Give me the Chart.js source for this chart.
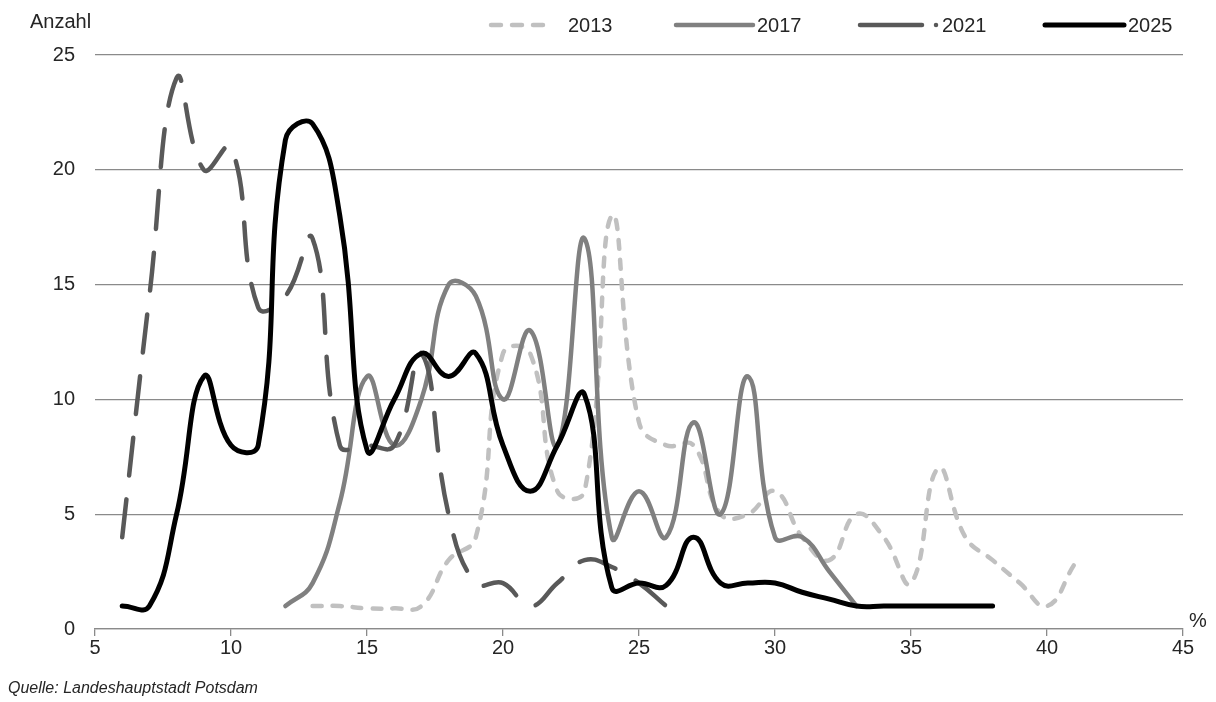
<!DOCTYPE html>
<html lang="de">
<head>
<meta charset="utf-8">
<title>Anzahl nach Anteil (%)</title>
<script src="https://cdn.jsdelivr.net/npm/chart.js@4.4.1/dist/chart.umd.min.js"></script>
<style>
    html, body { margin: 0; padding: 0; background: #fff; }
    #wrap {
        position: relative;
        width: 1216px;
        height: 702px;
        font-family: "Liberation Sans", Arial, Helvetica, sans-serif;
        color: #262626;
    }
    #chart { position: absolute; left: 0; top: 0; }
    .lbl { position: absolute; white-space: nowrap; line-height: 1; }
    #yTitle { left: 30px; top: 11px; font-size: 20px; }
    #xUnit { left: 1189px; top: 610px; font-size: 20px; }
    #source { left: 8px; top: 680px; font-size: 16px; font-style: italic; }
</style>
</head>
<body>
<div id="wrap">
    <canvas id="chart" width="1216" height="702"></canvas>
    <div class="lbl" id="yTitle">Anzahl</div>
    <div class="lbl" id="xUnit">%</div>
    <div class="lbl" id="source">Quelle: Landeshauptstadt Potsdam</div>
</div>
<script>

// values (x = %, y = Anzahl)
var x2013 = [13, 14, 15, 16, 17, 18, 19, 20, 21, 22, 23, 24, 25, 26, 27, 28, 29, 30, 31, 32, 33, 34, 35, 36, 37, 38, 39, 40, 41];
var y2013 = [1, 1, 0.9, 0.9, 1, 3, 4, 12, 12, 6, 6, 18, 9, 8, 8, 5, 5, 6, 4, 3, 5, 4, 2, 7, 4, 3, 2, 1, 2.8];

var x2017 = [12, 13, 14, 15, 16, 17, 18, 19, 20, 21, 22, 23, 24, 25, 26, 27, 28, 29, 30, 31, 32, 33];
var y2017 = [1, 2, 5.5, 11, 8, 10, 15, 14.5, 10, 13, 8, 17, 4, 6, 4, 9, 5, 11, 4, 4, 2.5, 1];

var x2021 = [6, 7, 8, 9, 10, 11, 12, 13, 14, 15, 16, 17, 18, 19, 20, 21, 22, 23, 24, 25, 26];
var y2021 = [4, 14.5, 24, 20, 21, 14, 14.5, 17, 8, 8, 8, 12, 5, 2, 2, 1, 2, 3, 2.7, 2, 1];

var x2025 = [6, 7, 8, 9, 10, 11, 12, 13, 14, 15, 16, 17, 18, 19, 20, 21, 22, 23, 24, 25, 26, 27, 28, 29, 30, 31, 32, 33, 34, 35, 36, 37, 38];
var y2025 = [1, 1, 5, 11, 8, 8, 21.3, 22, 18, 7.8, 10, 12, 11, 12, 8, 6, 8, 10.2, 1.8, 2, 1.9, 4, 2, 2, 2, 1.6, 1.3, 1, 1, 1, 1, 1, 1];

var seriesLabels = ["2013", "2017", "2021", "2025"];
var xTicks = [5, 10, 15, 20, 25, 30, 35, 40, 45];
var yTicks = [0, 5, 10, 15, 20, 25];

function toPoints(xs, ys) {
    return xs.map(function (x, k) { return {x: x, y: ys[k]}; });
}

var gridColor = "#8a8a8a";
var textColor = "#262626";

// legend: sample positions in the header row
var legendSpots = [
    {x0: 491, x1: 554, tx: 568, dash: [10, 11]},
    {x0: 676, x1: 753, tx: 757, dash: []},
    {x0: 860, x1: 922, tx: 942, dash: [], dot: 936},
    {x0: 1045, x1: 1124, tx: 1128, dash: []}
];

var headerLegend = {
    id: "headerLegend",
    afterDraw: function (chart) {
        var ctx = chart.ctx;
        var y = 25;
        chart.data.datasets.forEach(function (ds, i) {
            var spot = legendSpots[i];
            ctx.save();
            ctx.strokeStyle = ds.borderColor;
            ctx.lineWidth = ds.borderWidth;
            ctx.lineCap = "round";
            ctx.setLineDash(spot.dash);
            ctx.beginPath();
            ctx.moveTo(spot.x0, y);
            ctx.lineTo(spot.x1, y);
            ctx.stroke();
            if (spot.dot) {
                ctx.setLineDash([]);
                ctx.fillStyle = ds.borderColor;
                ctx.beginPath();
                ctx.arc(spot.dot, y, ds.borderWidth / 2, 0, Math.PI * 2);
                ctx.fill();
            }
            ctx.fillStyle = textColor;
            ctx.font = '20px "Liberation Sans", Arial, sans-serif';
            ctx.textBaseline = "middle";
            ctx.textAlign = "left";
            ctx.fillText(seriesLabels[i], spot.tx, y + 1);
            ctx.restore();
        });
    }
};

var ctx = document.getElementById("chart").getContext("2d");
new Chart(ctx, {
    type: "line",
    data: {
        datasets: [
            {
                label: seriesLabels[0],
                data: toPoints(x2013, y2013),
                borderColor: "#c0c0c0",
                borderWidth: 4.5,
                borderDash: [9, 11],
                order: 4
            },
            {
                label: seriesLabels[1],
                data: toPoints(x2017, y2017),
                borderColor: "#808080",
                borderWidth: 4.5,
                order: 3
            },
            {
                label: seriesLabels[2],
                data: toPoints(x2021, y2021),
                borderColor: "#595959",
                borderWidth: 4.5,
                borderDash: [38, 24],
                order: 2
            },
            {
                label: seriesLabels[3],
                data: toPoints(x2025, y2025),
                borderColor: "#000000",
                borderWidth: 5,
                order: 1
            }
        ]
    },
    options: {
        responsive: false,
        animation: false,
        layout: {padding: {top: 55, right: 33, left: 0, bottom: 0}},
        elements: {
            point: {radius: 0, hoverRadius: 0},
            line: {tension: 0.45, borderCapStyle: "round", borderJoinStyle: "round", fill: false}
        },
        plugins: {
            legend: {display: false},
            tooltip: {enabled: false}
        },
        scales: {
            x: {
                type: "linear",
                min: xTicks[0],
                max: xTicks[xTicks.length - 1],
                afterFit: function (scale) { scale.height = 73; },
                afterBuildTicks: function (scale) {
                    scale.ticks = xTicks.map(function (v) { return {value: v}; });
                },
                ticks: {color: textColor, font: {size: 20}, padding: 0, maxRotation: 0, autoSkip: false},
                grid: {drawOnChartArea: false, drawTicks: true, tickLength: 7, color: gridColor, lineWidth: 1.3},
                border: {display: true, color: gridColor, width: 1.3}
            },
            y: {
                min: yTicks[0],
                max: yTicks[yTicks.length - 1],
                afterFit: function (scale) { scale.width = 95; },
                afterBuildTicks: function (scale) {
                    scale.ticks = yTicks.map(function (v) { return {value: v}; });
                },
                ticks: {color: textColor, font: {size: 20}, padding: 20},
                grid: {color: gridColor, drawTicks: false, lineWidth: 1.3},
                border: {display: false}
            }
        }
    },
    plugins: [headerLegend]
});
</script>
</body>
</html>
